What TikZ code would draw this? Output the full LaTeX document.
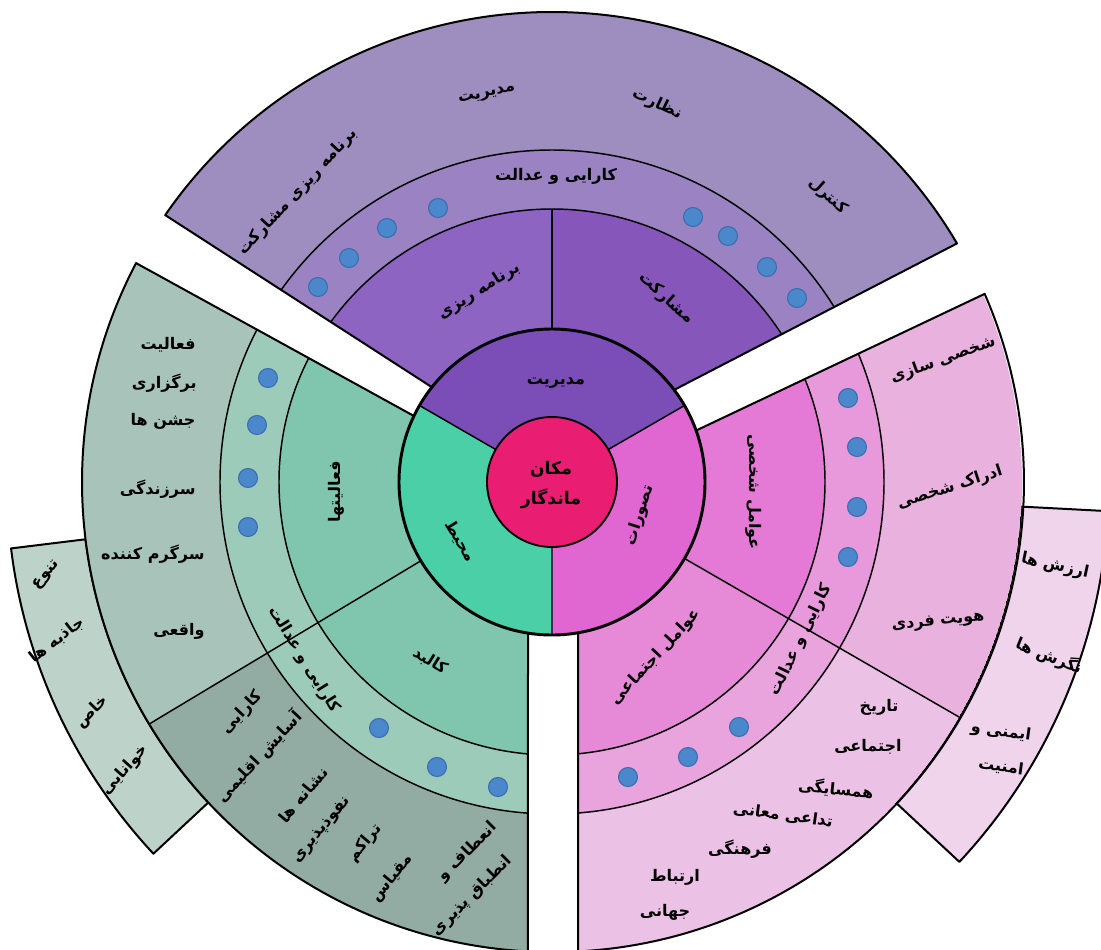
\documentclass[tikz,border=0pt]{standalone}
\usepackage{fontspec}
\newfontfamily\fa[Script=Arabic]{DejaVu Sans}
\TeXXeTstate=1
\usetikzlibrary{calc}
\newcommand{\fatxt}[1]{\beginR#1\endR}

\definecolor{ctrPink}{RGB}{233,30,115}
\definecolor{midPurple}{RGB}{123,77,182}
\definecolor{midGreen}{RGB}{74,207,166}
\definecolor{midPink}{RGB}{224,102,210}
\definecolor{purpleInL}{RGB}{142,100,195}
\definecolor{purpleInR}{RGB}{134,86,186}
\definecolor{purpleMid}{RGB}{155,130,194}
\definecolor{purpleOut}{RGB}{158,141,191}
\definecolor{greenIn}{RGB}{128,198,175}
\definecolor{greenMid}{RGB}{157,203,185}
\definecolor{greenOut}{RGB}{168,196,186}
\definecolor{greenDark}{RGB}{146,172,163}
\definecolor{greenExtra}{RGB}{189,211,202}
\definecolor{pinkIn}{RGB}{228,122,214}
\definecolor{pinkInLow}{RGB}{230,138,215}
\definecolor{pinkMid}{RGB}{232,153,219}
\definecolor{pinkMidLow}{RGB}{233,163,221}
\definecolor{pinkOut}{RGB}{232,177,222}
\definecolor{pinkOutLow}{RGB}{236,193,230}
\definecolor{pinkExtra}{RGB}{239,212,236}
\definecolor{dotBlue}{RGB}{75,136,203}
\definecolor{dotRim}{RGB}{59,109,174}

\tikzset{every picture/.style={line width=0.75pt}}
\tikzset{
  edge/.style={draw=black, line width=1.5pt, line join=round},
  ring/.style={draw=black, line width=1.1pt},
  dot/.style={draw=dotRim, fill=dotBlue, line width=0.8pt},
  lbl/.style={font=\fa\bfseries\fontsize{12}{14}\selectfont, inner sep=0.75pt, align=center, text=black},
}

\begin{document}
\begin{tikzpicture}[x=0.75pt,y=0.75pt,yscale=-1,xscale=1]
    \useasboundingbox (0,0) rectangle (1101,950);
    \fill[white] (0,0) rectangle (1101,950);
    \coordinate (C) at (552,482);

    %Shape: Extra bands
    \draw[edge, fill=greenExtra] ($(C)+(-187:470)$) -- ($(C)+(-187:545)$) arc[start angle=-187, end angle=-223, radius=545] -- ($(C)+(-223:470)$) arc[start angle=-223, end angle=-187, radius=470] -- cycle;
    \draw[edge, fill=pinkExtra] ($(C)+(3:470)$) -- ($(C)+(3:557)$) arc[start angle=3, end angle=43, radius=557] -- ($(C)+(43:470)$) arc[start angle=43, end angle=3, radius=470] -- cycle;

    %Shape: Purple sector
    \begin{scope}
      \clip (431.9,387.2) -- (-102,42.8) -- (552,-300) -- (1234,100) -- (672,391) -- cycle;
      \clip (C) circle (470);
      \fill[purpleOut] (C) circle (470);
      \fill[purpleMid] (C) circle (332);
      \fill[purpleInL] (C) circle (273);
      \fill[purpleInR] (C) -- ++(0,-273) arc[start angle=-90, end angle=0, radius=273] -- cycle;
      \draw[ring] (C) circle (332) (C) circle (273);
    \end{scope}
    \draw[edge] (431.9,387.2) -- (165.2,215.1) arc[start angle=-145.4, end angle=-30.5, radius=470] -- (672,391);
    \draw[ring] (552,329) -- (552,209);

    %Shape: Green sector
    \begin{scope}
      \clip (414,416) -- (-142,110) -- (-300,1300) -- (528,1300) -- (528,633) -- cycle;
      \clip (C) circle (470);
      \fill[greenOut] (C) circle (470);
      \fill[greenDark] (C) -- ($(C)+(-211:700)$) -- ($(C)+(-270:700)$) -- cycle;
      \fill[greenMid] (C) circle (332);
      \fill[greenIn] (C) circle (273);
      \draw[ring] (C) circle (332) (C) circle (273);
    \end{scope}
    \draw[edge] (414,416) -- (136.1,263.1) arc[start angle=-152.24, end angle=-267.07, radius=470] -- (528,633);
    \draw[ring] ($(C)+(-211:153)$) -- ($(C)+(-211:470)$);

    %Shape: Pink sector
    \begin{scope}
      \clip (693,432) -- (1268.4,157.8) -- (1400,1300) -- (578,1300) -- (578,633) -- cycle;
      \clip (C) circle (470);
      \fill[pinkOut] (C) circle (470);
      \fill[pinkOutLow] (C) -- ($(C)+(30:700)$) -- ($(C)+(90:700)$) -- cycle;
      \fill[pinkMid] (C) circle (332);
      \fill[pinkMidLow] (C) -- ($(C)+(30:332)$) arc[start angle=30, end angle=90, radius=332] -- cycle;
      \fill[pinkIn] (C) circle (273);
      \fill[pinkInLow] (C) -- ($(C)+(30:273)$) arc[start angle=30, end angle=90, radius=273] -- cycle;
      \draw[ring] (C) circle (332) (C) circle (273);
    \end{scope}
    \draw[edge] (578,633) -- (578,951.4) arc[start angle=87.07, end angle=-23.6, radius=470] -- (693,432);
    \draw[ring] ($(C)+(30:153)$) -- ($(C)+(30:470)$);

    %Shape: Middle circle
    \fill[midPurple] (C) -- ($(C)+(-30:153)$) arc[start angle=-30, end angle=-150, radius=153] -- cycle;
    \fill[midGreen] (C) -- ($(C)+(-150:153)$) arc[start angle=-150, end angle=-270, radius=153] -- cycle;
    \fill[midPink] (C) -- ($(C)+(90:153)$) arc[start angle=90, end angle=-30, radius=153] -- cycle;
    \draw[ring] (C) -- ($(C)+(-30:153)$) (C) -- ($(C)+(-150:153)$) (C) -- ($(C)+(90:153)$);
    \draw[line width=2.2pt] (C) circle (153);
    \draw[line width=1.4pt, fill=ctrPink] (C) circle (65);

    %Shape: Dots
    \draw[dot] (318,287) circle (9.5);
    \draw[dot] (349,258) circle (9.5);
    \draw[dot] (387,228) circle (9.5);
    \draw[dot] (438,208) circle (9.5);
    \draw[dot] (693,217) circle (9.5);
    \draw[dot] (728,236) circle (9.5);
    \draw[dot] (767,267) circle (9.5);
    \draw[dot] (797,298) circle (9.5);
    \draw[dot] (268,378) circle (9.5);
    \draw[dot] (257,425) circle (9.5);
    \draw[dot] (248,478) circle (9.5);
    \draw[dot] (248,527) circle (9.5);
    \draw[dot] (379,728) circle (9.5);
    \draw[dot] (437,767) circle (9.5);
    \draw[dot] (498,787) circle (9.5);
    \draw[dot] (848,398) circle (9.5);
    \draw[dot] (857,447) circle (9.5);
    \draw[dot] (857,507) circle (9.5);
    \draw[dot] (848,557) circle (9.5);
    \draw[dot] (739,727) circle (9.5);
    \draw[dot] (688,757) circle (9.5);
    \draw[dot] (628,777) circle (9.5);

    % Text Node: centre and middle ring
    \node[lbl, font=\fa\bfseries\fontsize{13}{23}\selectfont] (tCenter) at (551,485) {\fatxt{مکان}\\\fatxt{ماندگار}};
    \node[lbl] (tMgmt) at (556,383) {\fatxt{مدیریت}};
    \node[lbl, rotate=-58] (tEnv) at (460,541) {\fatxt{محیط}};
    \node[lbl, rotate=72] (tImage) at (640,515) {\fatxt{تصورات}};

    % Text Node: purple sector
    \node[lbl, rotate=32] (tPlan) at (479,291) {\fatxt{برنامه ریزی}};
    \node[lbl, rotate=-42] (tPart) at (666,298) {\fatxt{مشارکت}};
    \node[lbl] (tEffP) at (556,176) {\fatxt{کارایی و عدالت}};
    \node[lbl, rotate=47] (tPlanPart) at (298,192) {\fatxt{برنامه ریزی مشارکت}};
    \node[lbl, rotate=13] (tMgmtOut) at (487,95) {\fatxt{مدیریت}};
    \node[lbl, rotate=-25] (tSuperv) at (657,104) {\fatxt{نظارت}};
    \node[lbl, rotate=-42] (tControl) at (828,196) {\fatxt{کنترل}};

    % Text Node: green sector
    \node[lbl, rotate=90] (tAct) at (336,492) {\fatxt{فعالیتها}};
    \node[lbl, rotate=-32] (tForm) at (430,661) {\fatxt{کالبد}};
    \node[lbl, rotate=-58] (tEffG) at (304,660) {\fatxt{کارایی و عدالت}};
    \node[lbl, anchor=east] (tG1) at (197,345) {\fatxt{فعالیت}};
    \node[lbl, anchor=east] (tG2) at (198,383) {\fatxt{برگزاری}};
    \node[lbl, anchor=east] (tG3) at (197,421) {\fatxt{جشن ها}};
    \node[lbl, anchor=east] (tG4) at (197,489) {\fatxt{سرزندگی}};
    \node[lbl, anchor=east] (tG5) at (206,554) {\fatxt{سرگرم کننده}};
    \node[lbl, anchor=east] (tG6) at (206,631) {\fatxt{واقعی}};
    \node[lbl, rotate=47] (tD1) at (242,713) {\fatxt{کارایی}};
    \node[lbl, rotate=47] (tD2) at (259,757) {\fatxt{آسایش اقلیمی}};
    \node[lbl, rotate=50] (tD3) at (303,795) {\fatxt{نشانه ها}};
    \node[lbl, rotate=50] (tD4) at (322,830) {\fatxt{نفوذپذیری}};
    \node[lbl, rotate=50] (tD5) at (365,843) {\fatxt{تراکم}};
    \node[lbl, rotate=50] (tD6) at (392,878) {\fatxt{مقیاس}};
    \node[lbl, rotate=45] (tD7) at (468,852) {\fatxt{انعطاف و}};
    \node[lbl, rotate=45] (tD8) at (472,896) {\fatxt{انطباق پذیری}};
    \node[lbl, rotate=50] (tE1) at (47,575) {\fatxt{تنوع}};
    \node[lbl, rotate=38] (tE2) at (57,640) {\fatxt{جاذبه ها}};
    \node[lbl, rotate=45] (tE3) at (92,712) {\fatxt{خاص}};
    \node[lbl, rotate=48] (tE4) at (125,770) {\fatxt{خوانایی}};

    % Text Node: pink sector
    \node[lbl, rotate=-90] (tPers) at (754,492) {\fatxt{عوامل شخصی}};
    \node[lbl, rotate=47] (tSoc) at (656,657) {\fatxt{عوامل اجتماعی}};
    \node[lbl, rotate=64] (tEffK) at (801,640) {\fatxt{کارایی و عدالت}};
    \node[lbl, rotate=20] (tK1) at (943,360) {\fatxt{شخصی سازی}};
    \node[lbl, rotate=18] (tK2) at (950,488) {\fatxt{ادراک شخصی}};
    \node[lbl, rotate=6] (tK3) at (938,622) {\fatxt{هویت فردی}};
    \node[lbl] (tK4) at (879,707) {\fatxt{تاریخ}};
    \node[lbl] (tK5) at (868,747) {\fatxt{اجتماعی}};
    \node[lbl, rotate=-6] (tK6) at (836,789) {\fatxt{همسایگی}};
    \node[lbl, rotate=-8] (tK7) at (783,815) {\fatxt{تداعی معانی}};
    \node[lbl] (tK8) at (740,849) {\fatxt{فرهنگی}};
    \node[lbl] (tK9) at (675,877) {\fatxt{ارتباط}};
    \node[lbl] (tK10) at (665,912) {\fatxt{جهانی}};
    \node[lbl, rotate=-12] (tX1) at (1055,566) {\fatxt{ارزش ها}};
    \node[lbl, rotate=-22] (tX2) at (1049,656) {\fatxt{نگرش ها}};
    \node[lbl, rotate=-8] (tX3) at (1001,732) {\fatxt{ایمنی و}};
    \node[lbl, rotate=-8] (tX4) at (1001,767) {\fatxt{امنیت}};

\end{tikzpicture}
\end{document}
